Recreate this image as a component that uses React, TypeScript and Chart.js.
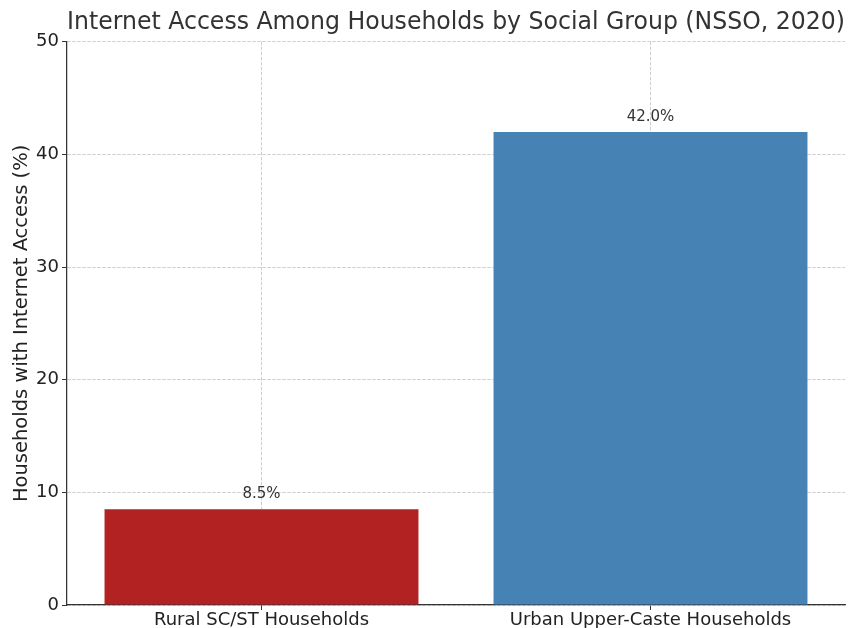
import React, { useEffect, useRef } from "react";
import { Chart, registerables } from "chart.js";

Chart.register(...registerables);

const categories = ["Rural SC/ST Households", "Urban Upper-Caste Households"];
const values = [8.5, 42.0];
const barColors = ["#B22222", "#4682B4"];
const yTicks = [0, 10, 20, 30, 40, 50];
const titleText = "Internet Access Among Households by Social Group (NSSO, 2020)";
const yTitle = "Households with Internet Access (%)";

const FONT = "'DejaVu Sans', sans-serif";
const GRID = "rgba(195,195,195,0.8)";

const barLabels = {
  id: "barLabels",
  afterDraw(chart: any) {
    const ctx = chart.ctx;
    const meta = chart.getDatasetMeta(0);
    const ys = chart.scales.y;
    ctx.save();
    ctx.font = `15px ${FONT}`;
    ctx.fillStyle = "#333333";
    ctx.textAlign = "center";
    ctx.textBaseline = "alphabetic";
    meta.data.forEach((bar: any, i: number) => {
      const v = values[i];
      ctx.fillText(v.toFixed(1) + "%", bar.x, ys.getPixelForValue(v + 1));
    });
    ctx.restore();
  },
};

export default function App() {
  const ref = useRef<HTMLCanvasElement | null>(null);
  useEffect(() => {
    if (!ref.current) return;
    const chart = new Chart(ref.current, {
      type: "bar",
      data: {
        labels: categories,
        datasets: [
          {
            data: values,
            backgroundColor: barColors,
            borderWidth: 0,
            barPercentage: 0.807,
            categoryPercentage: 1,
          },
        ],
      },
      options: {
        responsive: false,
        animation: false,
        layout: { padding: { left: 0, right: 7, top: 0, bottom: 0 } },
        plugins: {
          legend: { display: false },
          tooltip: { enabled: false },
          title: {
            display: true,
            text: titleText,
            fullSize: false,
            color: "#333333",
            font: { family: FONT, size: 24, weight: "normal" },
            padding: { top: 8, bottom: 5 },
          },
        },
        scales: {
          x: {
            z: 1,
            grid: {
              offset: false,
              color: GRID,
              tickColor: "#333333",
              tickLength: 5,
              tickBorderDash: [],
              lineWidth: 1,
            },
            border: { display: true, color: "#333333", width: 1.25, dash: [3.5, 1.5] },
            ticks: {
              color: "#222222",
              font: { family: FONT, size: 18 },
              padding: 0,
              maxRotation: 0,
            },
            afterFit: (s: any) => {
              s.height = 23;
            },
          },
          y: {
            z: 1,
            min: 0,
            max: 50,
            afterBuildTicks: (s: any) => {
              s.ticks = yTicks.map((v) => ({ value: v }));
            },
            grid: {
              color: GRID,
              tickColor: "#333333",
              tickLength: 5,
              tickBorderDash: [],
              lineWidth: 1,
            },
            border: { display: true, color: "#333333", width: 1.25, dash: [3.5, 1.5] },
            ticks: {
              color: "#222222",
              font: { family: FONT, size: 18 },
              padding: 3,
            },
            title: {
              display: true,
              text: yTitle,
              color: "#222222",
              font: { family: FONT, size: 19.5 },
              padding: { top: 10, bottom: 4 },
            },
            afterFit: (s: any) => {
              s.width = 67;
            },
          },
        },
      },
      plugins: [barLabels],
    });
    return () => chart.destroy();
  }, []);
  return (
    <div style={{ position: "fixed", left: 0, top: 0, width: 852, height: 628, background: "#fff" }}>
      <canvas ref={ref} width={852} height={628} style={{ display: "block" }} />
    </div>
  );
}
